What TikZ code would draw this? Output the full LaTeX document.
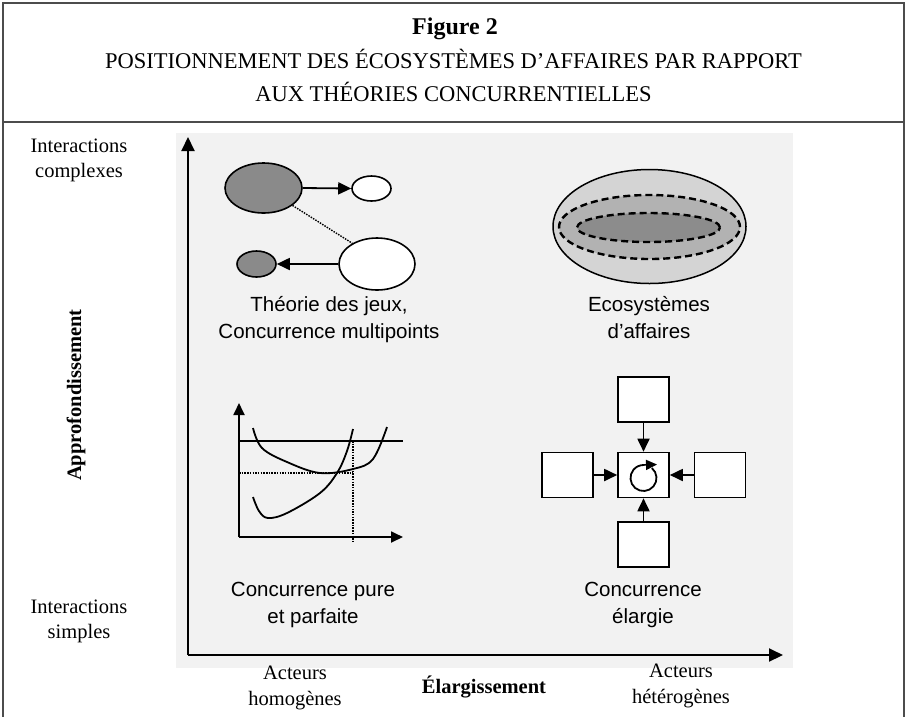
\documentclass[tikz,border=0pt]{standalone}
\usepackage{fontspec}
\setmainfont{Liberation Serif}
\setsansfont{Liberation Sans}
\usetikzlibrary{shapes.geometric,arrows.meta}
\begin{document}
\begin{tikzpicture}[x=1pt,y=-1pt,
  frameline/.style={line width=2pt,draw=black!70},
  titlefont/.style={font=\fontsize{22.5}{27}\selectfont,inner sep=0,anchor=base},
  axlbl/.style={font=\fontsize{20.5}{25}\selectfont,inner sep=0,anchor=base},
  sflbl/.style={font=\sffamily\fontsize{20.5}{27}\selectfont,inner sep=0,anchor=base},
  axis/.style={line width=2pt,-{Triangle[length=14pt,width=13pt]}},
  small axis/.style={line width=1.8pt,-{Triangle[length=12pt,width=11pt]}},
  link/.style={line width=1.8pt,-{Triangle[length=13pt,width=12pt]}},
  oval/.style={ellipse,draw,line width=1.6pt,inner sep=0},
  darkoval/.style={oval,fill=black!46},
  whiteoval/.style={oval,fill=white},
  sqbox/.style={draw,line width=1.6pt,fill=white,minimum width=51pt,minimum height=45pt,inner sep=0},
  dashring/.style={ellipse,draw,line width=2.4pt,dash pattern=on 7pt off 4pt,inner sep=0},
  curve/.style={line width=1.8pt},
  guide/.style={line width=1.4pt,dash pattern=on 1.5pt off 1.2pt}
]
\useasboundingbox (0,0) rectangle (907,716);
\fill[white] (0,0) rectangle (907,716);
% frame
\draw[frameline] (3,720) -- (3,3) -- (904,3) -- (904,720);
\draw[frameline] (3,122) -- (904,122);
% title
\node[titlefont,font=\bfseries\fontsize{24}{28}\selectfont] (t1) at (455,34) {Figure 2};
\node[titlefont] (t2) at (453.5,68) {POSITIONNEMENT DES ÉCOSYSTÈMES D’AFFAIRES PAR RAPPORT};
\node[titlefont] (t3) at (453.5,101) {AUX THÉORIES CONCURRENTIELLES};
% scanned background
\fill[black!5] (176,133) rectangle (793,668);
% axes
\coordinate (O) at (188,655);
\coordinate (Ytop) at (188,137);
\coordinate (Xend) at (783,655);
\draw[axis] (O) -- (Ytop);
\draw[axis] (O) -- (Xend);
% axis labels
\node[axlbl] (ic1) at (79,152) {Interactions};
\node[axlbl] (ic2) at (79,177) {complexes};
\node[axlbl] (is1) at (79,613) {Interactions};
\node[axlbl] (is2) at (79,638) {simples};
\node[font=\bfseries\fontsize{20.5}{25}\selectfont,inner sep=0,rotate=90] (appr) at (76,395) {Approfondissement};
\node[axlbl] (ah1) at (295,679) {Acteurs};
\node[axlbl] (ah2) at (295,705) {homogènes};
\node[axlbl,font=\bfseries\fontsize{20.5}{25}\selectfont] (el) at (484,693) {Élargissement};
\node[axlbl] (at1) at (681,677) {Acteurs};
\node[axlbl] (at2) at (681,703) {hétérogènes};
% game theory
\node[darkoval,minimum width=77pt,minimum height=50pt] (g1) at (263.5,188) {};
\node[whiteoval,minimum width=39pt,minimum height=25pt] (g2) at (371.5,188.5) {};
\node[whiteoval,minimum width=76pt,minimum height=52pt] (g3) at (377,264) {};
\node[darkoval,minimum width=39pt,minimum height=26pt] (g4) at (256.5,264) {};
\draw[link] (g1.east) -- (g2.west);
\draw[link] (g3.west) -- (g4.east);
\draw[guide] (g1.-31) -- (g3.140);
\node[sflbl] (gt1) at (329,311) {Théorie des jeux,};
\node[sflbl] (gt2) at (329,338) {Concurrence multipoints};
% business ecosystems
\node[ellipse,draw,line width=1.5pt,fill=black!17,inner sep=0,minimum width=193pt,minimum height=114pt] (e1) at (649.5,226.5) {};
\node[dashring,fill=black!30,minimum width=181pt,minimum height=64pt] (e2) at (649.5,227) {};
\node[dashring,fill=black!45,minimum width=143pt,minimum height=29pt] (e3) at (648.5,227.5) {};
\node[sflbl] (et1) at (649,311) {Ecosystèmes};
\node[sflbl] (et2) at (649,338) {d’affaires};
% pure and perfect competition chart
\coordinate (c0) at (239,537);
\coordinate (cy) at (239,403);
\coordinate (cx) at (403,537);
\draw[small axis] (c0) -- (cy);
\draw[small axis] (c0) -- (cx);
\coordinate (hl) at (239,441);
\coordinate (hr) at (403,441);
\draw[curve] (hl) -- (hr);
\coordinate (dl) at (239,473);
\coordinate (dm) at (353,473);
\coordinate (dt) at (353,441);
\coordinate (db) at (353,543);
\draw[guide] (dl) -- (dm);
\draw[guide] (dt) -- (db);
\draw[curve] plot[smooth,tension=0.6] coordinates {(253,428) (262,448) (287,462) (320,473) (353,469) (373,459) (387,427)};
\draw[curve] plot[smooth,tension=0.6] coordinates {(253,497) (259,511) (268,518) (287,513) (320,493) (337,473) (347,451) (353,429)};
\node[sflbl] (pp1) at (313,596) {Concurrence pure};
\node[sflbl] (pp2) at (313,623) {et parfaite};
% extended competition
\node[sqbox] (bt) at (643.5,399.5) {};
\node[sqbox] (bc) at (643.5,475) {};
\node[sqbox] (bl) at (567.5,475) {};
\node[sqbox] (br) at (720,475) {};
\node[sqbox] (bb) at (643.5,544.5) {};
\draw[link] (bt) -- (bc);
\draw[link] (bl) -- (bc);
\draw[link] (br) -- (bc);
\draw[link] (bb) -- (bc);
\draw[line width=1.8pt] ([shift={(-50:13)}]bc.center) ++(0,3) arc[start angle=-50,end angle=270,radius=13];
\draw[line width=1.6pt,-{Triangle[length=11pt,width=10pt]}] ([shift={(-1,-10)}]bc.center) -- ([shift={(13.5,-10.5)}]bc.center);
\node[sflbl] (ec1) at (643,596) {Concurrence};
\node[sflbl] (ec2) at (643,623) {élargie};
\end{tikzpicture}
\end{document}
